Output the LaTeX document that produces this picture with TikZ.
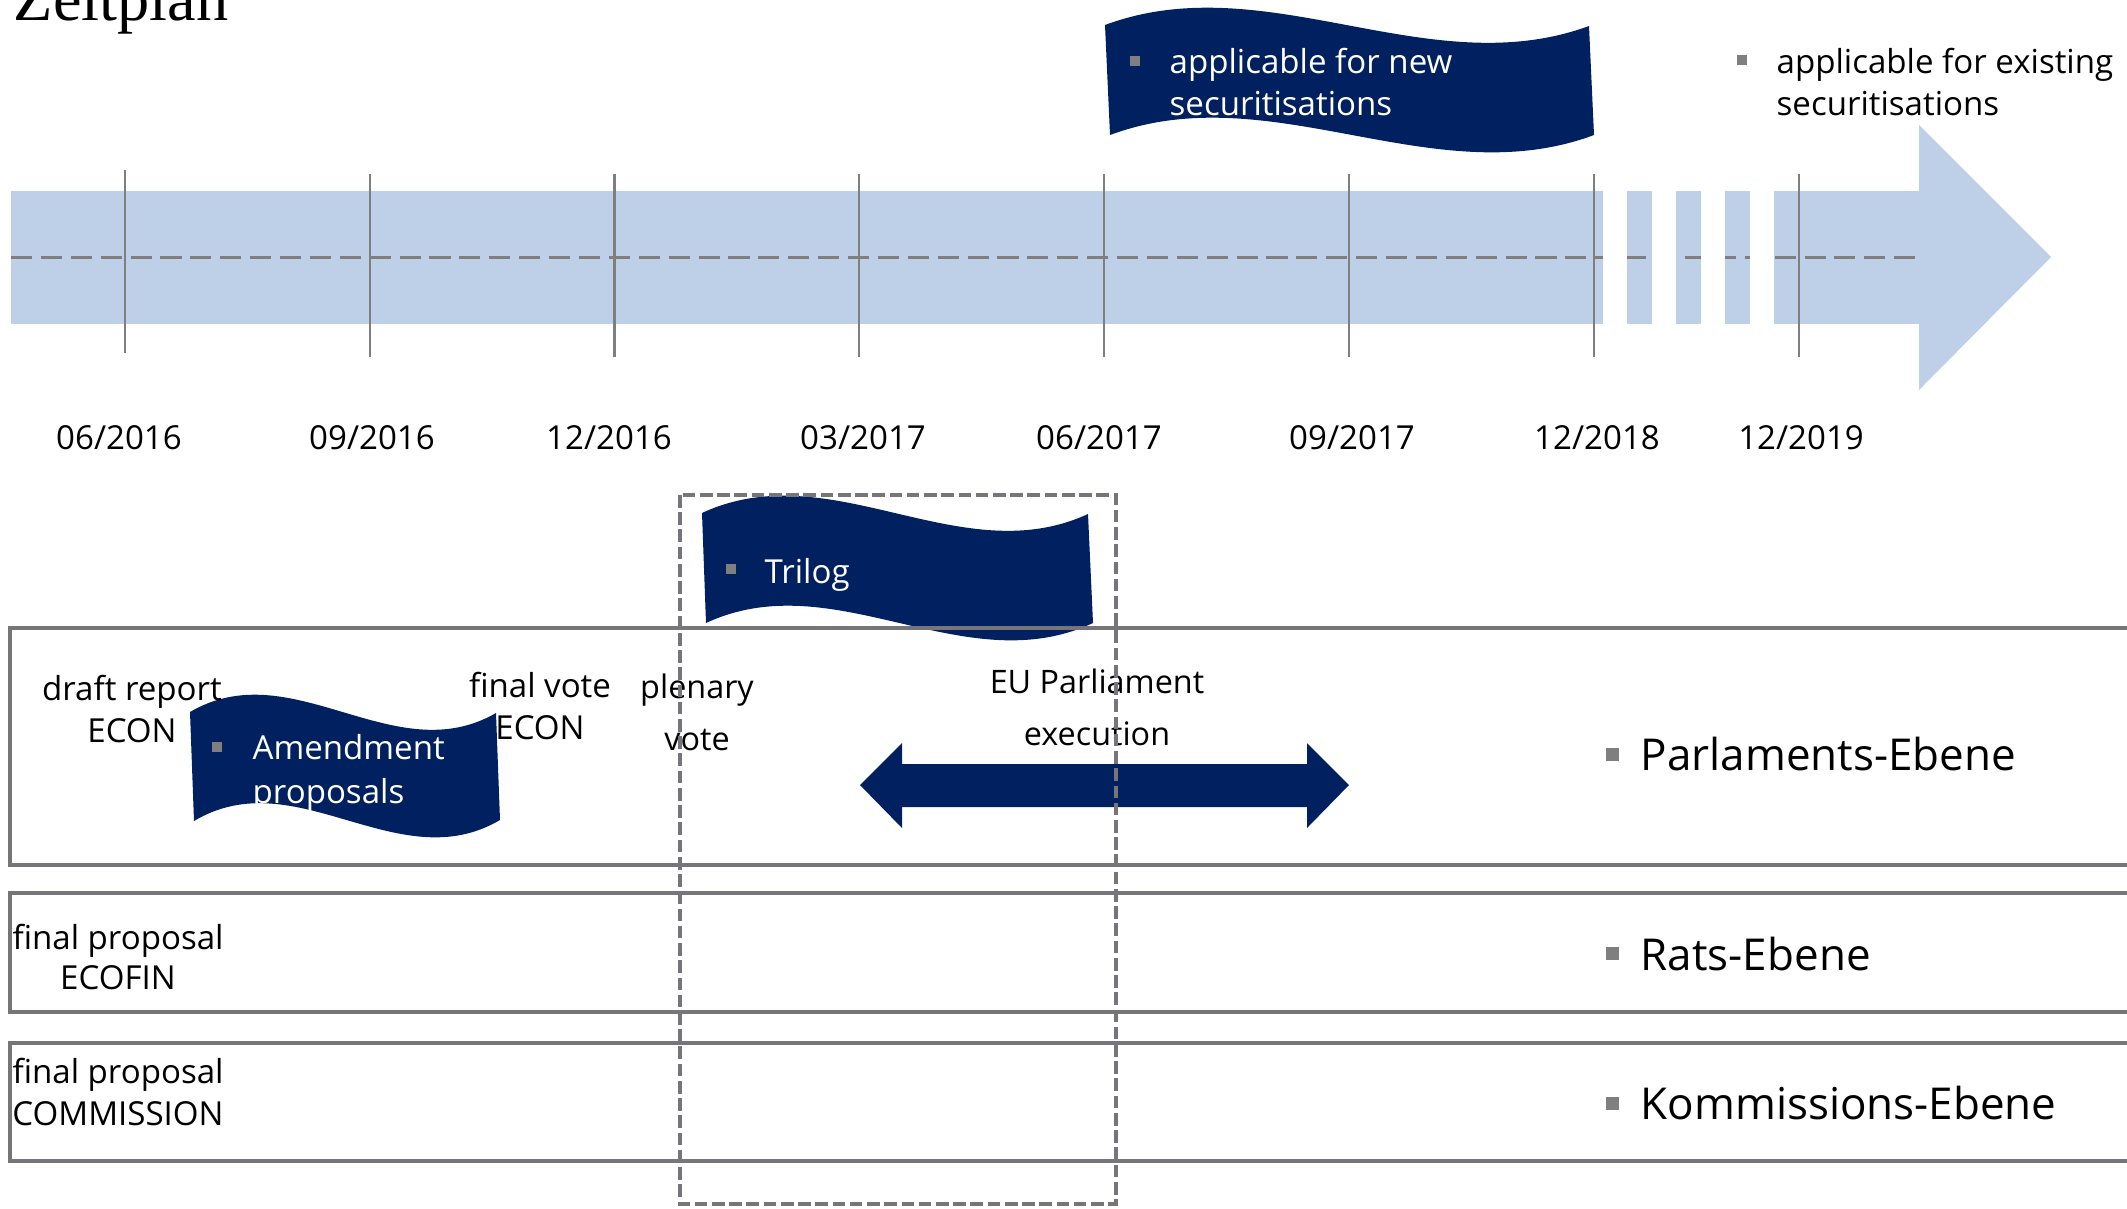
\documentclass[tikz,border=0pt]{standalone}
\usepackage{fontspec}
\setmainfont{Open Sans}
\newfontfamily\titlefont{Liberation Serif}
\definecolor{navy}{RGB}{0,32,96}
\definecolor{bandblue}{RGB}{190,207,232}
\definecolor{tickgray}{RGB}{127,127,127}
\definecolor{boxgray}{RGB}{118,118,122}
\begin{document}
\begin{tikzpicture}[x=0.01cm,y=-0.01cm,
  lbl/.style={font=\fontsize{9.4}{11.7}\selectfont, align=center, inner sep=0pt},
  lblwide/.style={font=\fontsize{9.2}{14.8}\selectfont, align=center, inner sep=0pt},
  datelbl/.style={font=\fontsize{9.4}{11}\selectfont, inner sep=0pt},
  flagtxt/.style={font=\fontsize{9.4}{11.95}\selectfont, text=white, align=left, anchor=west, inner sep=0pt},
  plaintxt/.style={font=\fontsize{9.4}{11.95}\selectfont, align=left, anchor=west, inner sep=0pt},
  leveltxt/.style={font=\fontsize{12.5}{15}\selectfont, anchor=west, inner sep=0pt},
  bulletsq/.style={fill=tickgray},
  flagshape/.style={fill=navy},
  levelbox/.style={draw=boxgray, line width=1.3pt},
  tickline/.style={draw=tickgray, line width=0.6pt},
  trilogbox/.style={draw=boxgray, line width=1.1pt, dash pattern=on 3.6pt off 1.3pt}]
\useasboundingbox (0,0) rectangle (2127,1208);
\clip (0,0) rectangle (2127,1208);

% title
\node[anchor=base west, font=\titlefont\fontsize{18.3}{20}\selectfont, inner sep=0pt] (title) at (13,20) {Zeitplan};

% timeline band
\fill[bandblue] (11,191) rectangle (1919,324);
\fill[bandblue] (1919,125) -- (2051,257) -- (1919,390) -- cycle;
\draw[tickgray, line width=0.85pt, dash pattern=on 6pt off 2.5pt] (11,257) -- (1919,257);
\foreach \a in {1603,1652,1701,1750} \fill[white] (\a,189) rectangle ++(24,137);

% ticks
\draw[tickline] (125,170) -- (125,353);
\foreach \x in {370,614.5,859,1104,1349,1594,1799} \draw[tickline] (\x,174) -- (\x,357);

% dates
\node[datelbl] (d1) at (119,438) {06/2016};
\node[datelbl] (d2) at (372,438) {09/2016};
\node[datelbl] (d3) at (609,438) {12/2016};
\node[datelbl] (d4) at (863,438) {03/2017};
\node[datelbl] (d5) at (1099,438) {06/2017};
\node[datelbl] (d6) at (1352,438) {09/2017};
\node[datelbl] (d7) at (1597,438) {12/2018};
\node[datelbl] (d8) at (1801,438) {12/2019};

% flag: new securitisations
\fill[flagshape] (1105,25) .. controls (1266,-35) and (1428,85) .. (1589,26) -- (1594,135) .. controls (1433,195) and (1271,75) .. (1110,135) -- cycle;
\fill[bulletsq] (1130,56) rectangle (1140,66);
\node[flagtxt] (newsec) at (1169,82) {applicable for new\\securitisations};

% existing securitisations
\fill[bulletsq] (1737,55) rectangle (1747,65);
\node[plaintxt] (oldsec) at (1776,82) {applicable for existing\\securitisations};

% Trilog flag
\fill[flagshape] (702,513) .. controls (831,453) and (960,573) .. (1088,514) -- (1093,623) .. controls (964,683) and (835,563) .. (706,623) -- cycle;
\fill[bulletsq] (726,564) rectangle (736,574);
\node[flagtxt] (trilog) at (764,575) {Trilog};

% Amendment flag
\fill[flagshape] (190,712) .. controls (292,652) and (394,772) .. (496,713) -- (500,820) .. controls (398,880) and (296,760) .. (194,821) -- cycle;
\fill[bulletsq] (212,742) rectangle (222,752);
\node[flagtxt, font=\fontsize{9.4}{12.4}\selectfont] (amend) at (252,773) {Amendment\\proposals};

% level boxes
\draw[levelbox] (10,628) rectangle (2140,865);
\draw[levelbox] (10,893) rectangle (2140,1012);
\draw[levelbox] (10,1043) rectangle (2140,1161);

% level labels
\fill[bulletsq] (1606,748) rectangle (1619,761);
\node[leveltxt] (parl) at (1640,754) {Parlaments-Ebene};
\fill[bulletsq] (1606,947) rectangle (1619,960);
\node[leveltxt] (rats) at (1640,954) {Rats-Ebene};
\fill[bulletsq] (1606,1097) rectangle (1619,1110);
\node[leveltxt] (komm) at (1640,1103) {Kommissions-Ebene};

% stage labels
\node[lbl] (draft) at (132,709) {draft report\\ECON};
\node[lbl] (finalvote) at (540,706) {final vote\\ECON};
\node[lblwide] (plenary) at (697,712) {plenary\\vote};
\node[lblwide] (execution) at (1097,707) {EU Parliament\\execution};
\node[lbl, font=\fontsize{9.4}{11.4}\selectfont] (ecofin) at (118,957) {final proposal\\ECOFIN};
\node[lbl] (commission) at (118,1092) {final proposal\\COMMISSION};

% double arrow
\fill[navy] (860,785) -- (902,743) -- (902,764) -- (1307,764) -- (1307,743) -- (1349,785) -- (1307,828) -- (1307,807) -- (902,807) -- (902,828) -- cycle;

% trilog dashed frame
\draw[trilogbox] (680,495) rectangle (1116,1204);
\end{tikzpicture}
\end{document}
